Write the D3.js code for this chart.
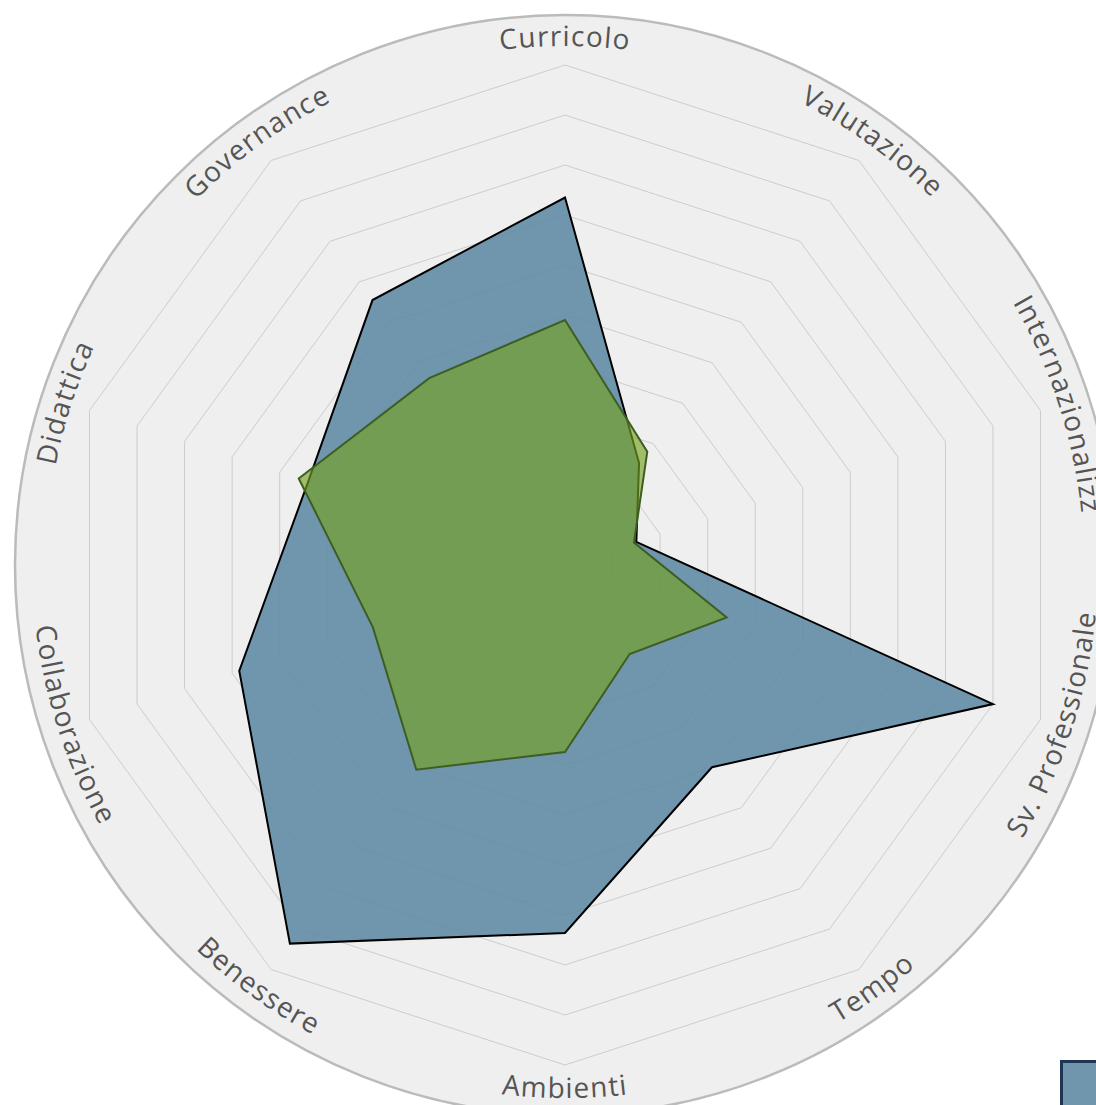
<!DOCTYPE html>
<html>
<head>
<meta charset="utf-8">
<script src="https://cdn.jsdelivr.net/npm/d3@7"></script>
<style>
  body { margin: 0; background: #fff; }
  svg { display: block; }
  .label { font-family: "Open Sans", sans-serif; font-size: 28px; fill: #555; letter-spacing: 1.2px; }
</style>
</head>
<body>
<div class="chart"></div>
<script>
const axes = ['Curricolo', 'Valutazione', 'Internazionalizz', 'Sv. Professionale', 'Tempo',
	'Ambienti', 'Benessere', 'Collaborazione', 'Didattica', 'Governance'];
const seriesA = [7.35, 2.52, 1.5, 9.0, 5.0, 7.36, 9.36, 6.85, 5.4, 6.55];
const seriesB = [4.9, 2.8, 1.45, 3.4, 2.2, 3.74, 5.06, 4.04, 5.6, 4.62];
const levels = [1, 2, 3, 4, 5, 6, 7, 8, 9, 10];

const width = 1096;
const height = 1105;
const cx = 565, cy = 565;

const svg = d3.select('.chart').append('svg')
	.attr('width', width)
	.attr('height', height);

const g = svg.append('g')
	.attr('transform', `translate(${cx},${cy})`);

const rScale = d3.scaleLinear()
	.domain([0, 10])
	.range([0, 500]);

// angle in radians, 0 = up, clockwise
const angle = d3.scalePoint()
	.domain(axes)
	.range([0, 2 * Math.PI * (axes.length - 1) / axes.length]);

const radial = d3.lineRadial()
	.angle((d, i) => angle(axes[i]))
	.radius(d => rScale(d))
	.curve(d3.curveLinearClosed);

// background disc
g.append('circle')
	.attr('r', 550)
	.attr('fill', '#efefef')
	.attr('stroke', '#bbb')
	.attr('stroke-width', 2.5);

// grid rings
g.selectAll('.ring')
	.data(levels)
	.enter()
	.append('path')
	.attr('class', 'ring')
	.attr('d', l => radial(axes.map(() => l)))
	.attr('fill', 'none')
	.attr('stroke', '#ccc')
	.attr('stroke-width', 1);

// series
g.append('path')
	.attr('d', radial(seriesA))
	.attr('fill', '#628ca6')
	.attr('fill-opacity', 0.9)
	.attr('stroke', '#000')
	.attr('stroke-width', 2)
	.attr('stroke-linejoin', 'miter');

g.append('path')
	.attr('d', radial(seriesB))
	.attr('fill', '#75a121')
	.attr('fill-opacity', 0.65)
	.attr('stroke', '#3d5e22')
	.attr('stroke-width', 2);

// labels on arcs
const pt = (a, r) => [r * Math.sin(a), -r * Math.cos(a)];
const span = 80 * Math.PI / 180;

axes.forEach((name, i) => {
	const a = angle(name);
	const bottom = Math.cos(a) < -0.1;
	let d;
	if (!bottom) {
		const r = 519;
		const p0 = pt(a - span, r), p1 = pt(a + span, r);
		d = `M${p0}A${r},${r} 0 0 1 ${p1}`;
	} else {
		const r = 533;
		const p0 = pt(a + span, r), p1 = pt(a - span, r);
		d = `M${p0}A${r},${r} 0 0 0 ${p1}`;
	}
	g.append('path')
		.attr('id', 'arc' + i)
		.attr('d', d)
		.attr('fill', 'none');
	g.append('text')
		.attr('class', 'label')
		.append('textPath')
		.attr('href', '#arc' + i)
		.attr('startOffset', '50%')
		.attr('text-anchor', 'middle')
		.text(name);
});

// legend swatch (mostly off canvas)
svg.append('rect')
	.attr('x', 1061.5)
	.attr('y', 1061.5)
	.attr('width', 50)
	.attr('height', 50)
	.attr('fill', '#7096ad')
	.attr('stroke', '#1e3556')
	.attr('stroke-width', 3);
</script>
</body>
</html>
